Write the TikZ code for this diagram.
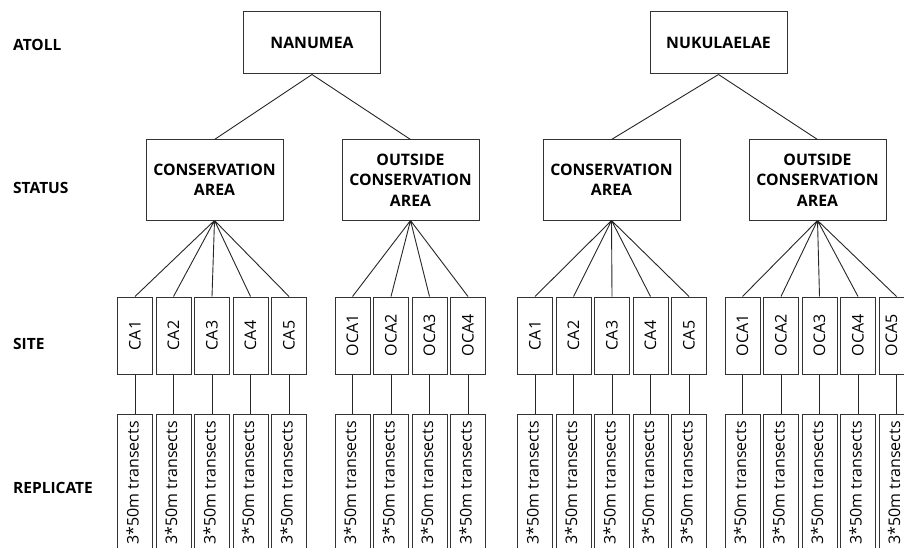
\documentclass[tikz,border=0pt]{standalone}
\usepackage{fontspec}
\setmainfont{Open Sans}
\tikzset{
  level/.style={anchor=west, inner sep=0pt, font=\fontsize{15.5}{18}\selectfont\bfseries},
  atollbox/.style={draw=black!80, line width=1pt, minimum width=137pt, minimum height=62pt, font=\fontsize{15.8}{20}\selectfont\bfseries},
  statusbox/.style={draw=black!80, line width=1pt, minimum width=137pt, minimum height=80pt, align=center, font=\fontsize{15.8}{20.5}\selectfont\bfseries},
  sitebox/.style={draw=black!80, line width=1pt, minimum width=35pt, minimum height=77pt, inner sep=0pt, font=\fontsize{16}{18}\selectfont},
  repbox/.style={draw=black!80, line width=1pt, minimum width=35pt, minimum height=137pt, anchor=north, inner sep=0pt, font=\fontsize{16}{18}\selectfont},
  link/.style={draw=black!85, line width=0.9pt}
}
\newcommand{\rep}{\rotatebox{90}{\raisebox{2.5pt}[\height][\depth]{3*50m transects}}}
\begin{document}
\begin{tikzpicture}[x=1pt, y=-1pt]
            \path[use as bounding box, clip] (0, 0) rectangle (904, 548);

            % Levels
            \node[level] (latoll) at (13, 44.5) {ATOLL};
            \node[level] (lstatus) at (13, 187.5) {STATUS};
            \node[level] (lsite) at (13, 344) {SITE};
            \node[level] (lrep) at (13, 487.5) {REPLICATE};

            % Atolls
            \node[atollbox] (nanumea) at (312, 43) {NANUMEA};
            \node[atollbox] (nukulaelae) at (718.5, 43) {NUKULAELAE};

            % Status
            \node[statusbox] (nCA) at (214.5, 180) {CONSERVATION\\AREA};
            \node[statusbox] (nOCA) at (410.5, 180) {OUTSIDE\\CONSERVATION\\AREA};
            \node[statusbox] (kCA) at (611.5, 180) {CONSERVATION\\AREA};
            \node[statusbox] (kOCA) at (817.5, 180) {OUTSIDE\\CONSERVATION\\AREA};
            \draw[link] (nanumea.south) -- (nCA.north);
            \draw[link] (nanumea.south) -- (nOCA.north);
            \draw[link] (nukulaelae.south) -- (kCA.north);
            \draw[link] (nukulaelae.south) -- (kOCA.north);

            % Nanumea conservation area
            \node[sitebox] (nCA1) at (135, 335.5) {\rotatebox{90}{CA1}};
            \node[sitebox] (nCA2) at (173.5, 335.5) {\rotatebox{90}{CA2}};
            \node[sitebox] (nCA3) at (212, 335.5) {\rotatebox{90}{CA3}};
            \node[sitebox] (nCA4) at (250.5, 335.5) {\rotatebox{90}{CA4}};
            \node[sitebox] (nCA5) at (289, 335.5) {\rotatebox{90}{CA5}};
            \node[repbox] (nCA1r) at (135, 414) {\rep};
            \node[repbox] (nCA2r) at (173.5, 414) {\rep};
            \node[repbox] (nCA3r) at (212, 414) {\rep};
            \node[repbox] (nCA4r) at (250.5, 414) {\rep};
            \node[repbox] (nCA5r) at (289, 414) {\rep};
            \draw[link] (nCA.south) -- (nCA1.north) (nCA.south) -- (nCA2.north) (nCA.south) -- (nCA3.north)
                        (nCA.south) -- (nCA4.north) (nCA.south) -- (nCA5.north);
            \draw[link] (nCA1) -- (nCA1r) (nCA2) -- (nCA2r) (nCA3) -- (nCA3r) (nCA4) -- (nCA4r) (nCA5) -- (nCA5r);

            % Nanumea outside conservation area
            \node[sitebox] (nOCA1) at (352.5, 335.5) {\rotatebox{90}{OCA1}};
            \node[sitebox] (nOCA2) at (391, 335.5) {\rotatebox{90}{OCA2}};
            \node[sitebox] (nOCA3) at (429.5, 335.5) {\rotatebox{90}{OCA3}};
            \node[sitebox] (nOCA4) at (468, 335.5) {\rotatebox{90}{OCA4}};
            \node[repbox] (nOCA1r) at (352.5, 414) {\rep};
            \node[repbox] (nOCA2r) at (391, 414) {\rep};
            \node[repbox] (nOCA3r) at (429.5, 414) {\rep};
            \node[repbox] (nOCA4r) at (468, 414) {\rep};
            \draw[link] (nOCA.south) -- (nOCA1.north) (nOCA.south) -- (nOCA2.north)
                        (nOCA.south) -- (nOCA3.north) (nOCA.south) -- (nOCA4.north);
            \draw[link] (nOCA1) -- (nOCA1r) (nOCA2) -- (nOCA2r) (nOCA3) -- (nOCA3r) (nOCA4) -- (nOCA4r);

            % Nukulaelae conservation area
            \node[sitebox] (kCA1) at (535, 335.5) {\rotatebox{90}{CA1}};
            \node[sitebox] (kCA2) at (573.5, 335.5) {\rotatebox{90}{CA2}};
            \node[sitebox] (kCA3) at (612, 335.5) {\rotatebox{90}{CA3}};
            \node[sitebox] (kCA4) at (650.5, 335.5) {\rotatebox{90}{CA4}};
            \node[sitebox] (kCA5) at (689, 335.5) {\rotatebox{90}{CA5}};
            \node[repbox] (kCA1r) at (535, 414) {\rep};
            \node[repbox] (kCA2r) at (573.5, 414) {\rep};
            \node[repbox] (kCA3r) at (612, 414) {\rep};
            \node[repbox] (kCA4r) at (650.5, 414) {\rep};
            \node[repbox] (kCA5r) at (689, 414) {\rep};
            \draw[link] (kCA.south) -- (kCA1.north) (kCA.south) -- (kCA2.north) (kCA.south) -- (kCA3.north)
                        (kCA.south) -- (kCA4.north) (kCA.south) -- (kCA5.north);
            \draw[link] (kCA1) -- (kCA1r) (kCA2) -- (kCA2r) (kCA3) -- (kCA3r) (kCA4) -- (kCA4r) (kCA5) -- (kCA5r);

            % Nukulaelae outside conservation area
            \node[sitebox] (kOCA1) at (742.5, 335.5) {\rotatebox{90}{OCA1}};
            \node[sitebox] (kOCA2) at (781, 335.5) {\rotatebox{90}{OCA2}};
            \node[sitebox] (kOCA3) at (819.5, 335.5) {\rotatebox{90}{OCA3}};
            \node[sitebox] (kOCA4) at (858, 335.5) {\rotatebox{90}{OCA4}};
            \node[sitebox] (kOCA5) at (896.5, 335.5) {\rotatebox{90}{\raisebox{5pt}[\height][\depth]{OCA5}}};
            \node[repbox] (kOCA1r) at (742.5, 414) {\rep};
            \node[repbox] (kOCA2r) at (781, 414) {\rep};
            \node[repbox] (kOCA3r) at (819.5, 414) {\rep};
            \node[repbox] (kOCA4r) at (858, 414) {\rep};
            \node[repbox] (kOCA5r) at (896.5, 414) {\rep};
            \draw[link] (kOCA.south) -- (kOCA1.north) (kOCA.south) -- (kOCA2.north) (kOCA.south) -- (kOCA3.north)
                        (kOCA.south) -- (kOCA4.north) (kOCA.south) -- (kOCA5.north);
            \draw[link] (kOCA1) -- (kOCA1r) (kOCA2) -- (kOCA2r) (kOCA3) -- (kOCA3r) (kOCA4) -- (kOCA4r) (kOCA5) -- (kOCA5r);

\end{tikzpicture}
\end{document}
